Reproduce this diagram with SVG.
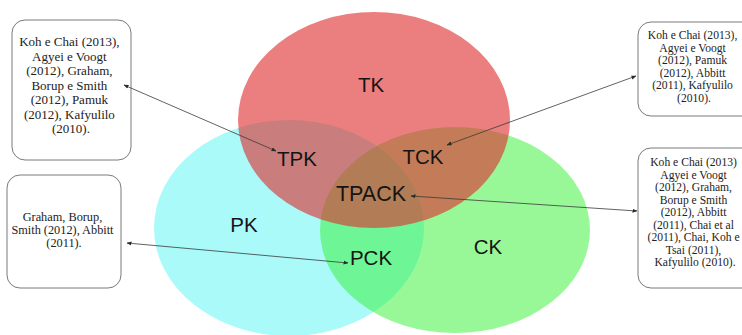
<svg xmlns="http://www.w3.org/2000/svg" width="742" height="335" viewBox="0 0 742 335">
  <style>
    .lbl { font-family: "Liberation Sans", Arial, sans-serif; font-size: 20.5px; fill: #141414; text-anchor: middle; }
    .ref { font-family: "Liberation Serif", "Times New Roman", serif; fill: #222; text-anchor: middle; }
    .box { fill: #fff; stroke: #7a7a7a; stroke-width: 1; }
    .link { stroke: #3a3a3a; stroke-width: 0.8; fill: none; marker-start: url(#tip); marker-end: url(#tip); }
  </style>
  <defs>
    <marker id="tip" viewBox="0 0 10 10" refX="9" refY="5" markerWidth="5" markerHeight="5" orient="auto-start-reverse" markerUnits="userSpaceOnUse">
      <path d="M0,1 L10,5 L0,9 z" fill="#2a2a2a"/>
    </marker>
  </defs>

  <rect width="742" height="335" fill="#fff"/>

  <!-- Venn sets -->
  <g id="pk">
    <ellipse cx="289" cy="228" rx="135" ry="108" fill="#aafafa"/>
    <text class="lbl" x="244" y="232">PK</text>
  </g>
  <g id="ck">
    <ellipse cx="455" cy="230" rx="135" ry="103" fill="#31f131" fill-opacity="0.5"/>
    <text class="lbl" x="488" y="254">CK</text>
  </g>
  <g id="tk">
    <ellipse cx="374" cy="120" rx="136" ry="108" fill="#de2d2e" fill-opacity="0.61"/>
    <text class="lbl" x="371" y="92">TK</text>
  </g>

  <!-- Intersection labels -->
  <g id="tpk"><text class="lbl" x="297" y="166">TPK</text></g>
  <g id="tck"><text class="lbl" x="423" y="164">TCK</text></g>
  <g id="tpack"><text class="lbl" x="371" y="201" style="font-size:21.5px">TPACK</text></g>
  <g id="pck"><text class="lbl" x="371" y="265">PCK</text></g>

  <!-- Reference boxes -->
  <g id="ref-tpk">
    <rect class="box" x="12" y="20" width="119" height="140" rx="13"/>
    <text class="ref" style="font-size:13px">
      <tspan x="71" y="46">Koh e Chai (2013),</tspan>
      <tspan x="71" y="60.5">Agyei e Voogt</tspan>
      <tspan x="71" y="75">(2012),  Graham,</tspan>
      <tspan x="71" y="89.5">Borup e Smith</tspan>
      <tspan x="71" y="104">(2012), Pamuk</tspan>
      <tspan x="71" y="118.5">(2012), Kafyulilo</tspan>
      <tspan x="71" y="133">(2010).</tspan>
    </text>
  </g>
  <g id="ref-pck">
    <rect class="box" x="7" y="175" width="114" height="113" rx="13"/>
    <text class="ref" style="font-size:12.3px">
      <tspan x="64" y="221">Graham, Borup,</tspan>
      <tspan x="64" y="234">Smith (2012), Abbitt</tspan>
      <tspan x="64" y="247">(2011).</tspan>
    </text>
  </g>
  <g id="ref-tck">
    <rect class="box" x="638" y="22" width="120" height="94" rx="13"/>
    <text class="ref" style="font-size:11.6px">
      <tspan x="694" y="39">Koh e Chai (2013),</tspan>
      <tspan x="694" y="51.5">Agyei e Voogt</tspan>
      <tspan x="694" y="64">(2012), Pamuk</tspan>
      <tspan x="694" y="76.5">(2012), Abbitt</tspan>
      <tspan x="694" y="89">(2011), Kafyulilo</tspan>
      <tspan x="694" y="101.5">(2010).</tspan>
    </text>
  </g>
  <g id="ref-tpack">
    <rect class="box" x="638" y="148" width="120" height="140" rx="13"/>
    <text class="ref" style="font-size:11.6px">
      <tspan x="695" y="166">Koh e Chai (2013)</tspan>
      <tspan x="695" y="178.5">Agyei e Voogt</tspan>
      <tspan x="695" y="191">(2012),  Graham,</tspan>
      <tspan x="695" y="203.5">Borup e Smith</tspan>
      <tspan x="695" y="216">(2012), Abbitt</tspan>
      <tspan x="695" y="228.5">(2011), Chai et al</tspan>
      <tspan x="695" y="241">(2011), Chai, Koh e</tspan>
      <tspan x="695" y="253.5">Tsai (2011),</tspan>
      <tspan x="695" y="266">Kafyulilo (2010).</tspan>
    </text>
  </g>

  <!-- Connectors -->
  <g id="connectors">
    <line class="link" x1="124" y1="85" x2="276" y2="151"/>
    <line class="link" x1="636" y1="76" x2="447" y2="145"/>
    <line class="link" x1="411" y1="196" x2="637" y2="211"/>
    <line class="link" x1="127" y1="243" x2="348" y2="263"/>
  </g>
</svg>
